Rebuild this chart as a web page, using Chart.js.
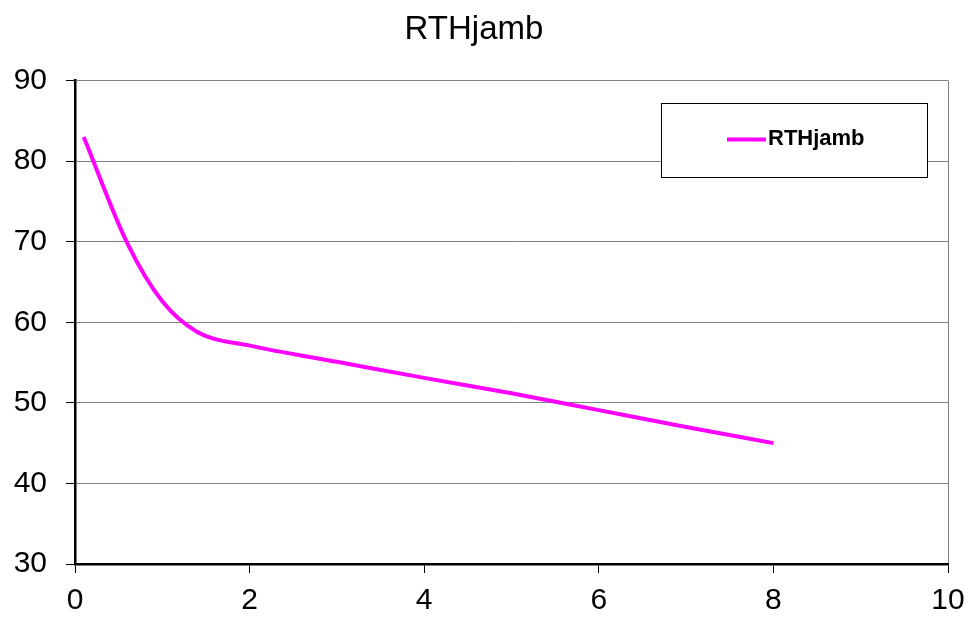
<!DOCTYPE html>
<html>
<head>
<meta charset="utf-8">
<script src="https://cdn.jsdelivr.net/npm/chart.js@4.4.0/dist/chart.umd.min.js"></script>
<style>
  body { margin: 0; background: #fff; }
  #wrap { width: 972px; height: 619px; }
</style>
</head>
<body>
<div id="wrap"><canvas id="rth-chart" width="972" height="619"></canvas></div>
<script>
// RTHjamb curve

const seriesName = "RTHjamb"
const xValues = [0.1, 0.6, 1, 1.4, 2, 3, 4, 5, 6, 7, 8]
const yValues = [83, 69.8, 62.6, 58.8, 57.1, 55.1, 53.1, 51.2, 49.1, 47, 45]
const xTicks = [0, 2, 4, 6, 8, 10]
const yTicks = [30, 40, 50, 60, 70, 80, 90]

const points = xValues.map((x, i) => ({ x: x, y: yValues[i] }))

const fontFam = "'Liberation Sans', Arial, sans-serif"

// legend box drawn inside the plot, like the original
const boxLegend = {
  id: "boxLegend",
  afterDraw(chart) {
    const ctx = chart.ctx
    ctx.save()
    ctx.fillStyle = "#fff"
    ctx.fillRect(661, 103, 266, 74)
    ctx.strokeStyle = "#000"
    ctx.lineWidth = 1
    ctx.strokeRect(661.5, 103.5, 266, 74)
    ctx.strokeStyle = "#ff00ff"
    ctx.lineWidth = 4
    ctx.beginPath()
    ctx.moveTo(727, 139.5)
    ctx.lineTo(766, 139.5)
    ctx.stroke()
    ctx.fillStyle = "#000"
    ctx.font = "bold 22px " + fontFam
    ctx.textBaseline = "middle"
    ctx.fillText(seriesName, 768, 139)
    ctx.restore()
  }
}

const contenedor = document.querySelector("#rth-chart").getContext("2d")

const rthChart = new Chart(contenedor, {
  type: "line",
  data: {
    datasets: [{
      label: seriesName,
      data: points,
      borderColor: "#ff00ff",
      borderWidth: 4,
      pointRadius: 0,
      cubicInterpolationMode: "monotone",
      fill: false,
    }],
  },
  options: {
    responsive: false,
    animation: false,
    layout: { padding: { left: 0, right: 24, top: 0, bottom: 0 } },
    plugins: {
      legend: { display: false },
      tooltip: { enabled: false },
      title: {
        display: true,
        text: seriesName,
        color: "#000",
        font: { family: fontFam, size: 33, weight: "normal" },
        padding: { top: 10, bottom: 31 },
      },
    },
    scales: {
      x: {
        type: "linear",
        min: 0,
        max: 10,
        afterBuildTicks: (scale) => { scale.ticks = xTicks.map(v => ({ value: v })) },
        afterFit: (scale) => {
          scale.height = 55
          scale.paddingRight = 24
        },
        grid: {
          color: (c) => c.tick && c.tick.value === 10 ? "#808080" : "rgba(0,0,0,0)",
          tickColor: "#000",
          tickLength: 9,
          lineWidth: 1,
        },
        border: { color: "#000", width: 2.5 },
        ticks: {
          color: "#000",
          padding: 10,
          font: { family: fontFam, size: 30 },
        },
      },
      y: {
        min: 30,
        max: 90,
        afterBuildTicks: (scale) => { scale.ticks = yTicks.map(v => ({ value: v })) },
        afterFit: (scale) => { scale.width = 75 },
        grid: {
          color: "#808080",
          tickColor: "#000",
          tickLength: 9,
          lineWidth: 1,
        },
        border: { color: "#000", width: 2.5 },
        ticks: {
          color: "#000",
          padding: 19,
          font: { family: fontFam, size: 30 },
        },
      },
    },
  },
  plugins: [boxLegend],
})
</script>
</body>
</html>
